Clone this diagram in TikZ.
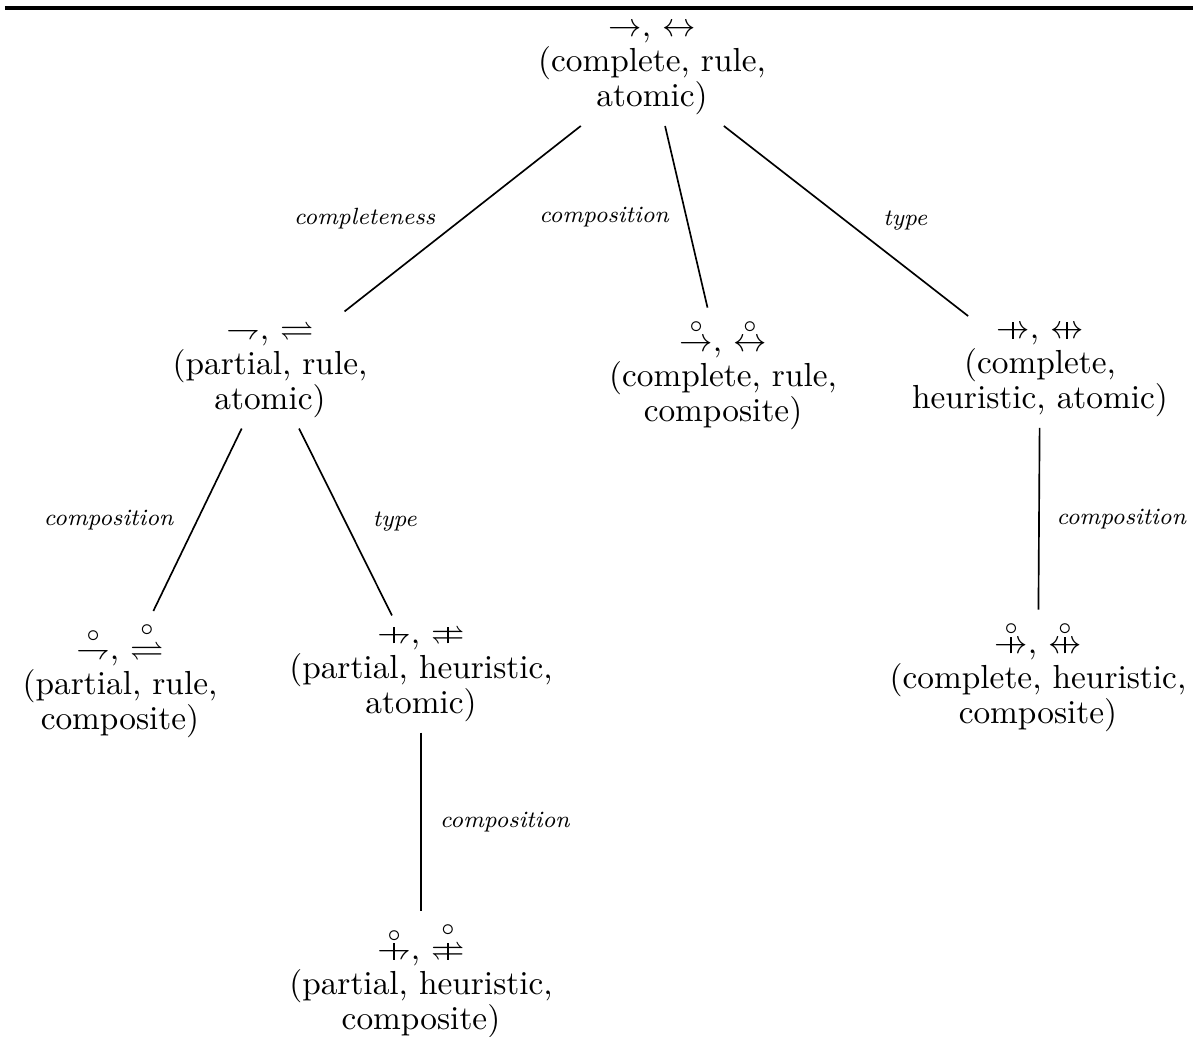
\documentclass[tikz,border=0pt]{standalone}
\usepackage{amsmath,amssymb,graphicx}
\usepackage{tikz}
\usetikzlibrary{positioning}
\newcommand{\heurarr}[1]{\mathrel{\ooalign{$#1$\cr\hidewidth$\vcenter{\hbox{\rule{0.45pt}{1.15ex}}}$\hidewidth\cr}}}
\newcommand{\cmpst}[1]{\overset{\circ}{#1}}
\newcommand{\dimname}[1]{\scalebox{0.88}{#1}}
\tikzstyle{classnode} = [align=center, font=\fontsize{10}{10.5}\selectfont, inner sep=3pt]
\tikzstyle{dimlabel} = [font=\fontsize{8}{9}\selectfont\itshape, inner sep=2pt]
\tikzstyle{branch} = [line width=0.5pt]

\begin{document}
\begin{tikzpicture}[x=0.3pt, y=-0.3pt]
\useasboundingbox (0,0) rectangle (1193,1037);
\draw[line width=1pt] (5,8) -- (1193,8);

% classes
\node[classnode] (root) at (652,70) {$\rightarrow$, $\leftrightarrow$\\(complete, rule,\\atomic)};
\node[classnode] (pra) at (270,370) {$\rightharpoondown$, $\rightleftharpoons$\\(partial, rule,\\atomic)};
\node[classnode] (crc) at (723,374) {$\cmpst{\rightarrow}$, $\cmpst{\leftrightarrow}$\\(complete, rule,\\composite)};
\node[classnode] (cha) at (1040,372) {$\heurarr{\rightarrow}$, $\heurarr{\leftrightarrow}$\\(complete,\\heuristic, atomic)};
\node[classnode] (prc) at (120,680) {$\cmpst{\rightharpoondown}$, $\cmpst{\rightleftharpoons}$\\(partial, rule,\\composite)};
\node[classnode] (pha) at (421,674) {$\heurarr{\rightharpoondown}$, $\heurarr{\rightleftharpoons}$\\(partial, heuristic,\\atomic)};
\node[classnode] (chc) at (1038,676) {$\cmpst{\heurarr{\rightarrow}}$, $\cmpst{\heurarr{\leftrightarrow}}$\\(complete, heuristic,\\composite)};
\node[classnode] (phc) at (421,980) {$\cmpst{\heurarr{\rightharpoondown}}$, $\cmpst{\heurarr{\rightleftharpoons}}$\\(partial, heuristic,\\composite)};

% dimensions
\draw[branch] (root) -- node[dimlabel, left=6pt] {\dimname{completeness}} (pra);
\draw[branch] (root) -- node[dimlabel, left=3pt] {\dimname{composition}} (crc);
\draw[branch] (root) -- node[dimlabel, right=9pt] {\dimname{type}} (cha);
\draw[branch] (pra) -- node[dimlabel, left=5pt] {\dimname{composition}} (prc);
\draw[branch] (pra) -- node[dimlabel, right=6pt] {\dimname{type}} (pha);
\draw[branch] (pha) -- node[dimlabel, right=3.5pt] {\dimname{composition}} (phc);
\draw[branch] (cha) -- node[dimlabel, right=3pt] {\dimname{composition}} (chc);
\end{tikzpicture}
\end{document}
